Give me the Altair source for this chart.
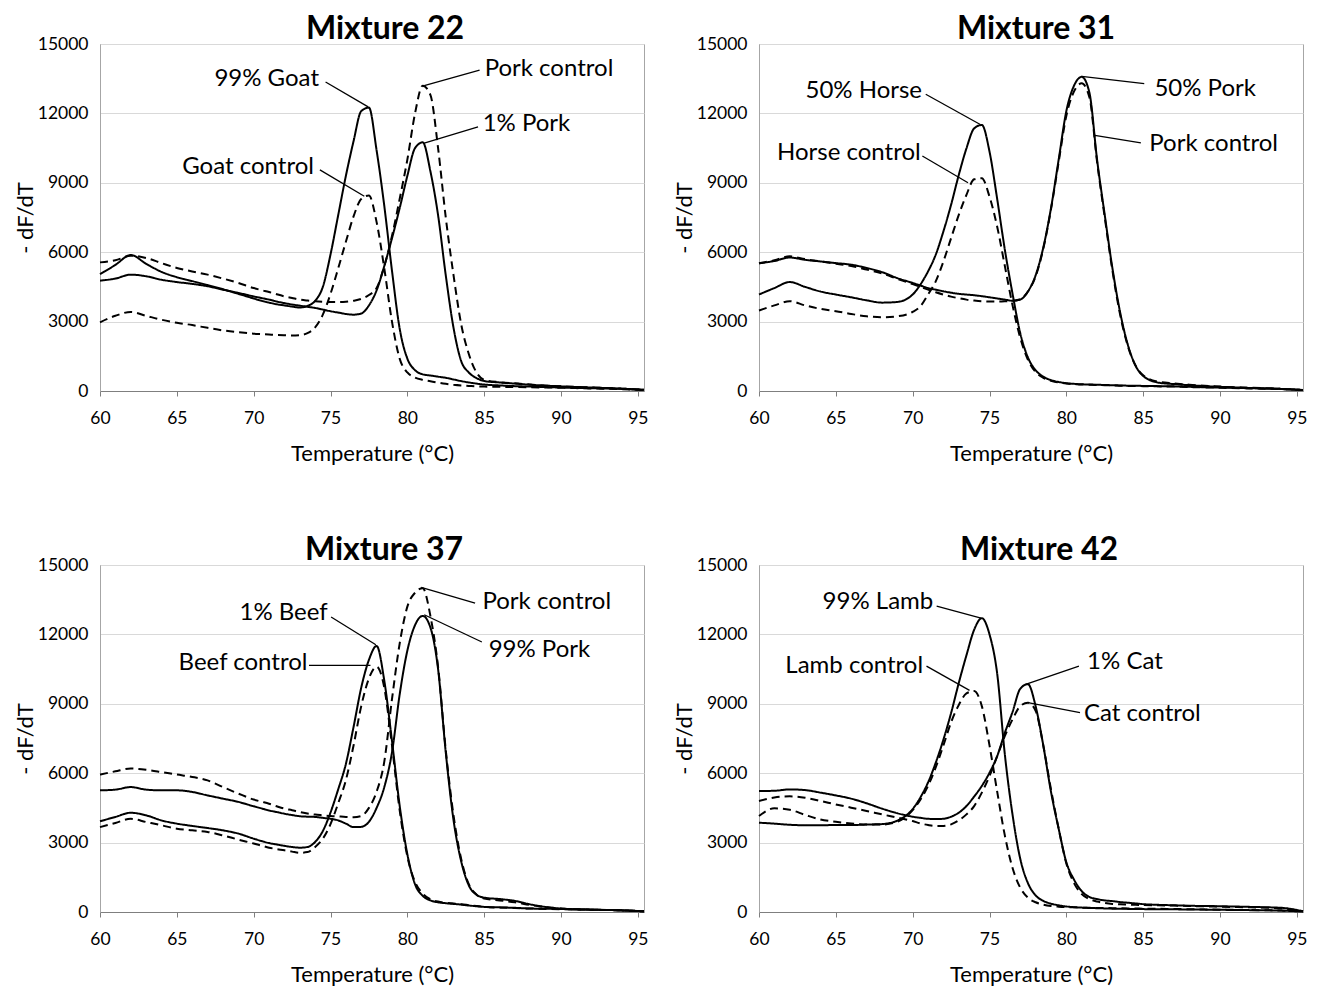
import altair as alt
import pandas as pd

# Temperature grid (°C), shared by all series
T = [60, 61, 62, 63, 64, 65, 66, 67, 68, 69,
     70, 70.5, 71, 71.5, 72, 72.5, 73, 73.5, 74, 74.5,
     75, 75.5, 76, 76.5, 77, 77.5, 78, 78.5, 79, 79.5,
     80, 80.5, 81, 81.5, 82, 82.5, 83, 83.5, 84, 84.5,
     85, 86, 87, 88, 90, 92, 94, 95.4]

X_TICKS = [60, 65, 70, 75, 80, 85, 90, 95]
Y_TICKS = [0, 3000, 6000, 9000, 12000, 15000]

# ---- Mixture 22 ----
m22_goat99 = [5050, 5450, 5880, 5500, 5150, 4920, 4750, 4580, 4400, 4200,
              4000, 3900, 3820, 3750, 3700, 3650, 3610, 3680, 3900, 4500,
              5900, 7600, 9300, 10800, 12100, 12250, 10400, 8000, 5200, 2700,
              1400, 900, 720, 670, 620, 570, 500, 430, 370, 320,
              280, 240, 210, 190, 150, 120, 90, 50]
m22_goat_ctrl = [2970, 3250, 3420, 3250, 3080, 2950, 2850, 2730, 2620, 2540,
                 2480, 2460, 2440, 2420, 2410, 2400, 2410, 2500, 2750, 3300,
                 4200, 5300, 6450, 7550, 8300, 8450, 7300, 5300, 3000, 1400,
                 800, 580, 480, 420, 360, 310, 270, 240, 220, 200,
                 190, 180, 170, 160, 140, 110, 80, 40]
m22_pork_ctrl = [5560, 5650, 5850, 5750, 5530, 5320, 5170, 5030, 4860, 4670,
                 4450, 4360, 4280, 4180, 4090, 4020, 3950, 3910, 3880, 3860,
                 3850, 3850, 3860, 3900, 3980, 4150, 4450, 5400, 6700, 8300,
                 10000, 12000, 13200, 12800, 10500, 7500, 5030, 2900, 1600, 800,
                 480, 380, 330, 280, 200, 150, 100, 50]
m22_pork1 = [4770, 4860, 5030, 4960, 4810, 4710, 4630, 4530, 4380, 4240,
             4090, 4020, 3950, 3870, 3800, 3740, 3690, 3640, 3590, 3520,
             3450, 3390, 3330, 3300, 3350, 3700, 4350, 5400, 6600, 7900,
             9300, 10500, 10750, 9500, 7600, 5000, 2750, 1300, 800, 560,
             430, 370, 320, 270, 200, 150, 100, 50]

# ---- Mixture 31 ----
m31_horse50 = [4170, 4450, 4710, 4500, 4300, 4170, 4050, 3920, 3820, 3850,
               4170, 4600, 5170, 5890, 6900, 8050, 9340, 10490, 11350, 11500,
               10350, 8300, 6100, 4200, 2500, 1450, 900, 620, 470, 390,
               340, 310, 290, 280, 270, 260, 250, 240, 230, 225,
               220, 210, 200, 180, 150, 120, 90, 40]
m31_horse_ctrl = [3480, 3700, 3880, 3700, 3550, 3450, 3330, 3230, 3190, 3230,
                  3420, 3660, 4170, 4740, 5600, 6610, 7610, 8480, 9150, 9200,
                  8400, 7100, 5400, 3700, 2300, 1350, 820, 570, 440, 370,
                  320, 300, 280, 270, 260, 250, 240, 230, 220, 215,
                  210, 200, 190, 170, 140, 110, 80, 40]
m31_pork50 = [5520, 5620, 5770, 5670, 5600, 5530, 5460, 5320, 5140, 4880,
              4670, 4560, 4450, 4380, 4310, 4250, 4200, 4170, 4140, 4100,
              4050, 4000, 3950, 3900, 3950, 4300, 5000, 6200, 7900, 10000,
              12100, 13200, 13580, 12900, 10000, 7600, 5300, 3400, 2000, 1100,
              650, 360, 300, 250, 180, 130, 90, 40]
m31_pork_ctrl = [5520, 5650, 5820, 5700, 5600, 5500, 5400, 5250, 5080, 4850,
                 4620, 4500, 4380, 4270, 4170, 4080, 4010, 3950, 3910, 3880,
                 3870, 3870, 3880, 3900, 3970, 4300, 4950, 6150, 7850, 9900,
                 11900, 12950, 13300, 12700, 9900, 7500, 5200, 3300, 1950, 1100,
                 680, 400, 330, 270, 190, 140, 90, 40]

# ---- Mixture 37 ----
m37_beef1 = [3920, 4110, 4290, 4180, 3960, 3820, 3720, 3630, 3530, 3390,
             3170, 3070, 2980, 2920, 2860, 2810, 2780, 2810, 3030, 3500,
             4300, 5300, 6400, 8000, 9700, 10900, 11500, 10000, 7400, 4600,
             2500, 1200, 700, 500, 420, 380, 350, 320, 280, 250,
             220, 200, 180, 150, 130, 100, 70, 30]
m37_beef_ctrl = [3670, 3850, 4030, 3890, 3750, 3600, 3530, 3460, 3310, 3130,
                 2960, 2870, 2780, 2720, 2670, 2610, 2560, 2590, 2810, 3170,
                 3800, 4700, 5700, 7200, 8900, 10100, 10600, 9700, 7200, 4400,
                 2400, 1300, 800, 550, 450, 400, 370, 340, 300, 260,
                 220, 190, 170, 150, 120, 100, 70, 30]
m37_pork_ctrl = [5940, 6080, 6200, 6150, 6050, 5940, 5840, 5690, 5400, 5120,
                 4860, 4770, 4680, 4570, 4470, 4400, 4320, 4260, 4210, 4180,
                 4150, 4130, 4110, 4100, 4150, 4500, 5200, 6500, 9200, 11600,
                 13200, 13800, 14000, 12800, 10600, 7000, 4200, 2300, 1200, 750,
                 580, 500, 420, 300, 150, 100, 70, 30]
m37_pork99 = [5260, 5290, 5400, 5290, 5260, 5260, 5190, 5040, 4900, 4760,
              4570, 4480, 4390, 4320, 4250, 4190, 4140, 4120, 4110, 4070,
              4030, 3960, 3820, 3670, 3680, 3900, 4500, 5400, 6900, 9400,
              11300, 12400, 12800, 12300, 10500, 6900, 4000, 2200, 1150, 750,
              620, 560, 480, 330, 150, 100, 70, 30]

# ---- Mixture 42 ----
m42_lamb99 = [3860, 3820, 3770, 3750, 3750, 3760, 3760, 3780, 3800, 3950,
              4450, 4950, 5600, 6450, 7450, 8600, 9900, 11100, 12200, 12700,
              12000, 10300, 6800, 4200, 2300, 1250, 720, 480, 360, 290,
              240, 210, 190, 175, 165, 155, 145, 140, 135, 130,
              125, 120, 115, 110, 95, 80, 60, 20]
m42_lamb_ctrl = [4150, 4480, 4420, 4200, 4000, 3900, 3830, 3780, 3780, 3900,
                 4400, 4850, 5450, 6250, 7200, 8200, 8950, 9450, 9550, 8900,
                 7200, 5200, 3300, 1900, 1050, 620, 420, 320, 260, 230,
                 210, 200, 190, 180, 175, 170, 165, 160, 155, 150,
                 145, 140, 130, 120, 100, 85, 65, 25]
m42_cat1 = [5230, 5240, 5300, 5270, 5160, 5040, 4900, 4700, 4470, 4270,
            4120, 4070, 4030, 4020, 4030, 4120, 4290, 4580, 4990, 5450,
            6020, 6740, 7750, 8650, 9650, 9850, 8900, 7200, 5200, 3600,
            2150, 1400, 900, 650, 560, 500, 470, 430, 400, 370,
            340, 310, 290, 270, 250, 220, 180, 30]
m42_cat_ctrl = [4800, 4950, 5000, 4940, 4800, 4650, 4510, 4370, 4220, 4080,
                3930, 3830, 3760, 3720, 3720, 3790, 3960, 4220, 4580, 5160,
                5880, 6740, 7610, 8330, 8900, 9050, 8700, 7200, 5300, 3600,
                2100, 1250, 780, 560, 450, 390, 350, 330, 320, 310,
                300, 290, 280, 260, 230, 200, 160, 30]

# Annotations: (label, text x, text y, side, leader x1, y1, x2, y2) in data units
m22_notes = [
    ("99% Goat", 74.25, 13500, "right", 74.68, 13360, 77.45, 12280),
    ("Goat control", 73.92, 9700, "right", 74.31, 9560, 77.2, 8420),
    ("Pork control", 85.03, 13940, "left", 84.7, 13870, 81.1, 13200),
    ("1% Pork", 84.9, 11560, "left", 84.6, 11420, 81.1, 10720),
]
m31_notes = [
    ("50% Horse", 70.61, 12970, "right", 70.85, 12830, 74.4, 11520),
    ("Horse control", 70.52, 10300, "right", 70.63, 10160, 73.6, 9000),
    ("50% Pork", 85.73, 13060, "left", 85.07, 13290, 81.0, 13600),
    ("Pork control", 85.4, 10680, "left", 84.85, 10730, 81.85, 11050),
]
m37_notes = [
    ("1% Beef", 74.82, 12910, "right", 75.04, 12750, 77.95, 11550),
    ("Beef control", 73.5, 10750, "right", 73.6, 10660, 77.6, 10660),
    ("Pork control", 84.89, 13400, "left", 84.41, 13350, 80.9, 14030),
    ("99% Pork", 85.29, 11310, "left", 84.85, 11670, 81.1, 12850),
]
m42_notes = [
    ("99% Lamb", 71.34, 13380, "right", 71.56, 13220, 74.45, 12700),
    ("Lamb control", 70.68, 10630, "right", 70.9, 10630, 73.7, 9580),
    ("1% Cat", 81.35, 10790, "left", 80.82, 10630, 77.35, 9840),
    ("Cat control", 81.15, 8540, "left", 80.89, 8620, 77.5, 9050),
]

FONT = "Lato"
PW, PH = 544, 347


def make_panel(title, series, notes, dx):
    rows = []
    for name, vals, style in series:
        assert len(vals) == len(T), name
        for t, v in zip(T, vals):
            rows.append({"T": t, "V": v, "series": name, "style": style})
    df = pd.DataFrame(rows)

    xs = alt.Scale(domain=[60, 95.4], nice=False, zero=False)
    ys = alt.Scale(domain=[0, 15000], nice=False, zero=True)
    xaxis = alt.Axis(values=X_TICKS, title="Temperature (°C)", grid=False,
                     ticks=True, tickSize=5, tickColor="#7f7f7f",
                     domainColor="#7f7f7f", labelPadding=13, titlePadding=17,
                     labelFlush=False, format="d",
                     labelFont=FONT, titleFont=FONT, labelFontSize=17.5,
                     titleFontSize=22, titleFontWeight="normal",
                     labelColor="black", titleColor="black")
    yaxis = alt.Axis(values=Y_TICKS, title="- dF/dT", grid=True,
                     gridColor="#d9d9d9", ticks=False, domainColor="#a6a6a6",
                     labelPadding=12, titlePadding=0, format="d",
                     labelFont=FONT, titleFont=FONT, labelFontSize=17.5,
                     titleFontSize=22, titleFontWeight="normal",
                     labelColor="black", titleColor="black")

    lines = alt.Chart(df).mark_line(
        color="black", strokeWidth=2, interpolate="monotone"
    ).encode(
        x=alt.X("T:Q", scale=xs, axis=xaxis),
        y=alt.Y("V:Q", scale=ys, axis=yaxis),
        strokeDash=alt.StrokeDash(
            "style:N",
            scale=alt.Scale(domain=["solid", "dashed"], range=[[1, 0], [8, 5]]),
            legend=None),
        detail="series:N",
    )

    nd = pd.DataFrame(notes, columns=["label", "tx", "ty", "side",
                                      "lx1", "ly1", "lx2", "ly2"])
    rules = alt.Chart(nd).mark_rule(color="black", strokeWidth=1.3).encode(
        x=alt.X("lx1:Q", scale=xs, axis=xaxis),
        y=alt.Y("ly1:Q", scale=ys, axis=yaxis),
        x2="lx2:Q", y2="ly2:Q",
    )
    layers = [lines, rules]
    for side in ["left", "right"]:
        sub = nd[nd["side"] == side]
        layers.append(
            alt.Chart(sub).mark_text(
                align=side, baseline="middle", fontSize=24, font=FONT,
                color="black"
            ).encode(
                x=alt.X("tx:Q", scale=xs, axis=xaxis),
                y=alt.Y("ty:Q", scale=ys, axis=yaxis),
                text="label:N",
            )
        )
    return alt.layer(*layers).properties(
        width=PW, height=PH,
        title=alt.TitleParams(text=title, fontSize=32, font=FONT,
                              fontWeight="bold", anchor="middle",
                              frame="group", dx=dx, offset=-11, color="black"),
    )


p22 = make_panel("Mixture 22", [
    ("99% Goat", m22_goat99, "solid"),
    ("Goat control", m22_goat_ctrl, "dashed"),
    ("Pork control", m22_pork_ctrl, "dashed"),
    ("1% Pork", m22_pork1, "solid"),
], m22_notes, 13)
p31 = make_panel("Mixture 31", [
    ("50% Horse", m31_horse50, "solid"),
    ("Horse control", m31_horse_ctrl, "dashed"),
    ("50% Pork", m31_pork50, "solid"),
    ("Pork control", m31_pork_ctrl, "dashed"),
], m31_notes, 5)
p37 = make_panel("Mixture 37", [
    ("1% Beef", m37_beef1, "solid"),
    ("Beef control", m37_beef_ctrl, "dashed"),
    ("Pork control", m37_pork_ctrl, "dashed"),
    ("99% Pork", m37_pork99, "solid"),
], m37_notes, 12)
p42 = make_panel("Mixture 42", [
    ("99% Lamb", m42_lamb99, "solid"),
    ("Lamb control", m42_lamb_ctrl, "dashed"),
    ("1% Cat", m42_cat1, "solid"),
    ("Cat control", m42_cat_ctrl, "dashed"),
], m42_notes, 8)

chart = alt.concat(
    p22, p31, p37, p42, columns=2, align="none",
    spacing={"row": 68, "column": 23},
).properties(
    padding={"left": 5, "top": 4, "right": 5, "bottom": 5}
).configure_view(
    stroke="#a6a6a6", strokeWidth=1
)

chart.save("out.html", embed_options={"renderer": "svg", "actions": False})
